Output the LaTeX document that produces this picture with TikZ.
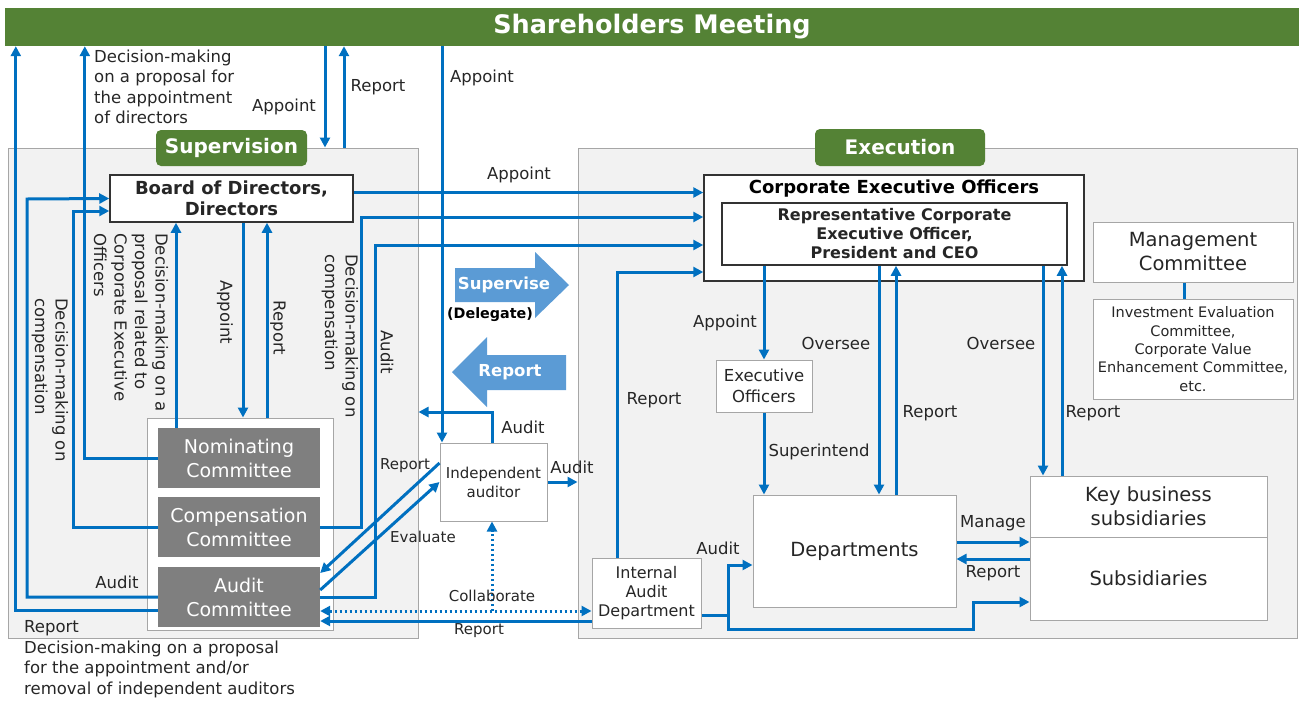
\documentclass[tikz,border=0pt]{standalone}
\usepackage{fontspec}
\setmainfont{DejaVu Sans}
\usepackage{tikz}
\usetikzlibrary{arrows.meta}
\definecolor{flowblue}{HTML}{0070C0}
\definecolor{arrowblue}{HTML}{5B9BD5}
\definecolor{shgreen}{HTML}{548235}
\definecolor{cmgray}{HTML}{7F7F7F}
\definecolor{panelgray}{HTML}{F2F2F2}
\definecolor{edgegray}{HTML}{A6A6A6}
\newcommand{\fsz}[2]{\fontsize{#1}{#2}\selectfont}

\tikzset{
  tip/.tip={Triangle[length=10pt,width=10pt]},
  flow/.style={line width=3pt,flowblue,-tip},
  dotflow/.style={line width=3pt,flowblue,dash pattern=on 2.5pt off 2.5pt},
  lbl/.style={font=\fsz{16.5}{20.5},text=black!85,inner sep=0pt},
  small/.style={font=\fsz{15}{18},text=black!85,inner sep=0pt},
  wbox/.style={draw=edgegray,fill=white,line width=1pt,inner sep=0pt,align=center,text=black!85},
  cbox/.style={fill=cmgray,text=white,inner sep=0pt,align=center,minimum width=162pt,minimum height=60pt,font=\fsz{19}{24}},
  tab/.style={fill=shgreen,rounded corners=5pt,text=white,inner sep=0pt,font=\bfseries\fsz{20}{24}},
  panel/.style={draw=edgegray,fill=panelgray,line width=1pt,inner sep=0pt},
}

\begin{document}
\begin{tikzpicture}[x=1pt,y=-1pt]
\useasboundingbox (0,0) rectangle (1303,702);
%Panels
\node[panel,minimum width=410pt,minimum height=490pt] (sup) at (213,393) {};
\node[panel,minimum width=719pt,minimum height=490pt] (exe) at (937.5,393) {};
\node[fill=shgreen,inner sep=0pt,minimum width=1294pt,minimum height=38pt,text=white,font=\bfseries\fsz{25.5}{28}] (sh) at (652,27) {Shareholders Meeting};
\node[tab,minimum width=151pt,minimum height=36pt] (suptab) at (231.5,148) {Supervision};
\node[tab,minimum width=170pt,minimum height=37pt] (exetab) at (900,147.5) {Execution};

%Big arrows
\fill[arrowblue] (455,268) -- (535,268) -- (535,252) -- (569,285) -- (535,318) -- (535,302) -- (455,302) -- cycle;
\node[text=white,font=\bfseries\fsz{16.5}{20},inner sep=0pt] (sv) at (504,285) {Supervise};
\node[font=\bfseries\fsz{14.3}{18},inner sep=0pt] (dl) at (490,315) {(Delegate)};
\fill[arrowblue] (566,355) -- (487,355) -- (487,337) -- (452,372) -- (487,407) -- (487,390) -- (566,390) -- cycle;
\node[text=white,font=\bfseries\fsz{16.5}{20},inner sep=0pt] (rp) at (510,372) {Report};

%Boxes
\node[wbox,draw=black!80,line width=1.5pt,minimum width=243pt,minimum height=47pt,font=\bfseries\fsz{18}{21}] (bod) at (231.5,198.5) {Board of Directors,\\Directors};
\node[wbox,minimum width=186pt,minimum height=212pt] (cm) at (240,524) {};
\node[cbox] (nc) at (239,458) {Nominating\\Committee};
\node[cbox] (cc) at (239,527) {Compensation\\Committee};
\node[cbox] (ac) at (239,597) {Audit\\Committee};
\node[wbox,minimum width=107pt,minimum height=78pt,font=\fsz{15}{19}] (ia) at (493.5,482) {Independent\\auditor};

\node[wbox,draw=black!80,line width=1.5pt,minimum width=380pt,minimum height=106pt] (ceo) at (894,228) {};
\node[font=\bfseries\fsz{18}{21},inner sep=0pt] (ceot) at (894,189) {Corporate Executive Officers};
\node[wbox,draw=black!80,line width=1.5pt,minimum width=345pt,minimum height=62pt,font=\bfseries\fsz{16}{19}] (rep) at (894.5,234) {Representative Corporate\\Executive Officer,\\President and CEO};
\node[wbox,minimum width=200pt,minimum height=60pt,font=\fsz{19.5}{24}] (mc) at (1193,252) {Management\\Committee};
\node[wbox,minimum width=200pt,minimum height=100pt,font=\fsz{14.5}{18.4}] (iec) at (1193,349) {Investment Evaluation\\Committee,\\Corporate Value\\Enhancement Committee,\\etc.};
\node[wbox,minimum width=96pt,minimum height=52pt,font=\fsz{16.5}{21}] (eo) at (764,386) {Executive\\Officers};
\node[wbox,minimum width=203pt,minimum height=112pt,font=\fsz{19.5}{24}] (dep) at (854.5,551) {Departments};
\node[wbox,minimum width=237pt,minimum height=61pt,font=\fsz{19.5}{24}] (key) at (1148.5,506.5) {Key business\\subsidiaries};
\node[wbox,minimum width=237pt,minimum height=83pt,font=\fsz{19.5}{24}] (sub) at (1148.5,578.5) {Subsidiaries};
\node[wbox,minimum width=109pt,minimum height=70pt,font=\fsz{16}{19}] (iad) at (646.5,593) {Internal\\Audit\\Department};

%Shareholders
\draw[flow] ([yshift=-13pt]ac.west) -| ([xshift=11pt]sh.south west);
\draw[flow] (nc.west) -| ([xshift=80pt]sh.south west);
\draw[flow] ([xshift=-327pt]sh.south) -- ([xshift=112pt]sup.north);
\draw[flow] ([xshift=131pt]sup.north) -- ([xshift=-308pt]sh.south);
\draw[flow] ([xshift=-210pt]sh.south) -- ([xshift=-51.5pt]ia.north);

%Committees to board
\draw[flow] (ac.west) -| (27,199) -- (bod.west);
\draw[flow] (cc.west) -| (73,211) -- ([yshift=-12.5pt]bod.west);
\draw[flow] ([xshift=-63pt]nc.north) -- ([xshift=-55.5pt]bod.south);
\draw[flow] ([xshift=11.5pt]bod.south) -- ([xshift=3pt]cm.north);
\draw[flow] ([xshift=27pt]cm.north) -- ([xshift=35.5pt]bod.south);

%Supervision to execution
\draw[flow] ([yshift=6pt]bod.east) -- ([yshift=35.5pt]ceo.west);
\draw[flow] (cc.east) -| (361,217) -- ([yshift=11pt]ceo.west);
\draw[flow] (ac.east) -| (375,245) -- ([yshift=-17pt]ceo.west);
\draw[flow] ([xshift=-29.5pt]iad.north) |- ([yshift=-44pt]ceo.west);

%Independent auditor
\draw[flow] ([xshift=-1.5pt]ia.north) |- ([yshift=-19pt]sup.east);
\draw[flow] (ia.east) -- (exe.west |- ia.east);
\draw[flow] ([yshift=19pt]ia.west) -- ([yshift=24pt]ac.east);
\draw[flow] ([yshift=7pt]ac.east) -- (ia.west);
\coordinate (cb) at (492,611);
\draw[dotflow,tip-tip] ([yshift=-14pt]ac.east) -- ([yshift=-18pt]iad.west);
\draw[dotflow,-tip] (cb) -- ([xshift=-1.5pt]ia.south);
\draw[flow] ([yshift=-28pt]iad.west) -- ([yshift=-24pt]ac.east);

%Execution
\draw[flow] ([yshift=-22pt]iad.east) -| (728,565) -- ([yshift=-14pt]dep.west);
\draw[flow] (728,615) |- (973,629) |- ([yshift=-23.5pt]sub.west);
\draw[flow] (eo.north |- rep.south) -- (eo.north);
\draw[flow] (eo.south) -- (eo.south |- dep.north);
\draw[flow] ([xshift=-15.5pt]rep.south) -- ([xshift=24.5pt]dep.north);
\draw[flow] ([xshift=41.5pt]dep.north) -- ([xshift=1.5pt]rep.south);
\draw[flow] ([xshift=148.5pt]rep.south) -- ([xshift=-105.5pt]key.north);
\draw[flow] ([xshift=-86.5pt]key.north) -- ([xshift=167.5pt]rep.south);
\draw[flow] ([yshift=9pt]dep.east) -- ([yshift=36.5pt]sub.west);
\draw[flow] ([yshift=19.5pt]sub.west) -- ([yshift=-8pt]dep.east);
\draw[line width=3pt,flowblue] ([xshift=-9pt]mc.south) -- ([xshift=-9pt]iec.north);

%Labels
\node[lbl,align=left,anchor=west] (l1) at (94,87) {Decision-making\\on a proposal for\\the appointment\\of directors};
\node[lbl] (l2) at (284,107) {Appoint};
\node[lbl] (l3) at (378,87) {Report};
\node[lbl] (l4) at (482,78) {Appoint};
\node[lbl] (l5) at (519,175) {Appoint};
\node[lbl,rotate=-90] (l6) at (225,312) {Appoint};
\node[lbl,rotate=-90] (l7) at (278,328) {Report};
\node[lbl,rotate=-90,align=left,anchor=west] (l8) at (131,233) {Decision-making on a\\proposal related to\\Corporate Executive\\Officers};
\node[lbl,rotate=-90,align=left,anchor=west] (l9) at (50,298) {Decision-making on\\compensation};
\node[lbl,rotate=-90,align=left,anchor=west] (l10) at (340,254) {Decision-making on\\compensation};
\node[lbl,rotate=-90] (l11) at (387,352) {Audit};
\node[lbl] (l12) at (117,582) {Audit};
\node[lbl,align=left,anchor=west] (l13) at (24,659) {Report\\Decision-making on a proposal\\for the appointment and/or\\removal of independent auditors};
\node[lbl] (l14) at (523,427) {Audit};
\node[lbl] (l15) at (572,467) {Audit};
\node[small] (l16) at (405,466) {Report};
\node[small] (l17) at (423,537) {Evaluate};
\node[small] (l18) at (492,596) {Collaborate};
\node[small] (l19) at (479,631) {Report};
\node[lbl] (l20) at (725,323) {Appoint};
\node[lbl] (l21) at (836,343) {Oversee};
\node[lbl] (l22) at (930,413) {Report};
\node[lbl] (l23) at (819,452) {Superintend};
\node[lbl] (l24) at (1001,343) {Oversee};
\node[lbl] (l25) at (1093,413) {Report};
\node[lbl] (l26) at (993,523) {Manage};
\node[lbl] (l27) at (993,573) {Report};
\node[lbl] (l28) at (718,548) {Audit};
\node[lbl] (l29) at (654,400) {Report};
\end{tikzpicture}
\end{document}
